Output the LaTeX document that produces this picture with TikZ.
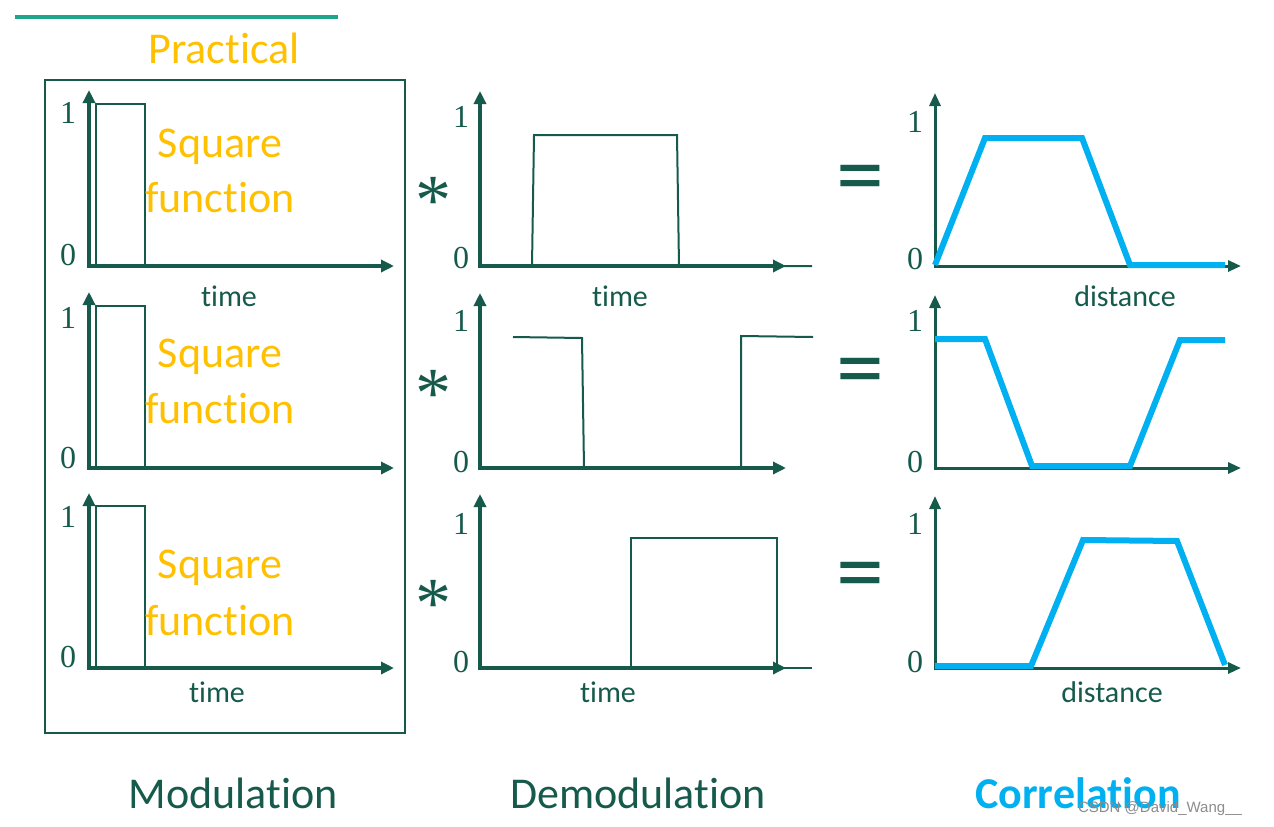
\documentclass[tikz,border=0pt]{standalone}
\usepackage{fontspec}
\setmainfont{Carlito}[Ligatures=NoCommon]
\newfontfamily\numfont{Liberation Serif}
\newfontfamily\wmfont{Liberation Sans}
\usetikzlibrary{arrows.meta}
\definecolor{dg}{RGB}{22,90,76}
\definecolor{yel}{RGB}{255,192,0}
\definecolor{blu}{RGB}{0,176,240}
\definecolor{topteal}{RGB}{30,166,138}
\begin{document}
\begin{tikzpicture}[x=1pt,y=-1pt,
  axis/.style={line width=4pt, draw=dg, -{Triangle[length=13pt,width=12pt]}},
  raxis/.style={line width=3pt, draw=dg, -{Triangle[length=13pt,width=11pt]}},
  sig/.style={line width=2pt, draw=dg},
  corr/.style={line width=6pt, draw=blu},
  num/.style={font=\numfont\fontsize{32}{32}\selectfont, text=dg, inner sep=0pt},
  sq/.style={font=\fontsize{44}{44}\selectfont, text=yel, inner sep=0pt},
  axlab/.style={font=\fontsize{30}{30}\selectfont, text=dg, inner sep=0pt},
  oplab/.style={font=\numfont\fontsize{72}{72}\selectfont, text=dg, inner sep=0pt},
  eqlab/.style={font=\fontsize{96}{96}\selectfont, text=dg, inner sep=0pt},
  title/.style={font=\fontsize{44}{44}\selectfont, inner sep=0pt}]
\useasboundingbox (0,0) rectangle (1274,827);

% top decoration and heading
\coordinate (tl) at (15,17);
\coordinate (tr) at (338,17);
\draw[line width=4pt, topteal] (tl) -- (tr);
\node[font=\fontsize{44}{44}\selectfont, text=yel, inner sep=0pt] (practical) at (224,48) {Practical};

% modulation frame
\draw[dg, line width=2pt] (45,80) rectangle (405,733);

% ---------- left column ----------
\foreach \r/\yo/\yt/\ytop/\yone/\yzero/\ysq/\yfn in
  {1/266/90/104/113/255/147/198, 2/468/292/306/318/458/357/409, 3/668/493/506/517/657/568/621}{
  \coordinate (L\r o) at (89,\yo);
  \coordinate (L\r y) at (89,\yt);
  \coordinate (L\r x) at (394,\yo);
  \draw[sig] (96,\yo) rectangle (145,\ytop);
  \draw[axis] ([yshift=-2pt]L\r o) -- (L\r y);
  \draw[axis] ([xshift=-2pt]L\r o) -- (L\r x);
  \node[num] (L\r one) at (68,\yone) {1};
  \node[num] (L\r zero) at (68,\yzero) {0};
  \node[sq] (L\r sq) at (220,\ysq) {Square};
  \node[sq] (L\r fn) at (220,\yfn) {function};
}
\node[axlab] (L1t) at (229,296) {time};
\node[axlab] (L3t) at (217,692) {time};

% ---------- middle column ----------
\foreach \r/\yo/\yt/\yone/\yzero/\yst in
  {1/266/91/117/258/190, 2/468/293/321/462/383, 3/668/494/524/662/593}{
  \coordinate (M\r o) at (480,\yo);
  \coordinate (M\r y) at (480,\yt);
  \coordinate (M\r x) at (786,\yo);
  \draw[axis] ([yshift=-2pt]M\r o) -- (M\r y);
  \draw[axis] ([xshift=-2pt]M\r o) -- (M\r x);
  \node[num] (M\r one) at (461,\yone) {1};
  \node[num] (M\r zero) at (461,\yzero) {0};
  \node[oplab] (M\r star) at (433,\yst+11) {*};
}
\draw[sig] (513,266) -- (532,266) -- (534,135) -- (677,135) -- (679,266) -- (812,266);
\draw[sig] (513,337) -- (582,338) -- (584,468);
\draw[sig] (741,468) -- (741,336) -- (813,337);
\draw[sig] (513,668) -- (631,668) -- (631,538) -- (777,538) -- (777,668) -- (812,668);
\node[axlab] (M1t) at (620,296) {time};
\node[axlab] (M3t) at (608,692) {time};

% ---------- right column ----------
\foreach \r/\yo/\yt/\yone/\yzero/\yeq in
  {1/266/93/122/259/186, 2/468/295/321/462/379, 3/668/496/524/662/583}{
  \coordinate (R\r o) at (935,\yo);
  \coordinate (R\r y) at (935,\yt);
  \coordinate (R\r x) at (1241,\yo);
  \draw[raxis] ([yshift=-1.5pt]R\r o) -- (R\r y);
  \draw[raxis] ([xshift=-1.5pt]R\r o) -- (R\r x);
  \node[num] (R\r one) at (915,\yone) {1};
  \node[num] (R\r zero) at (915,\yzero) {0};
  \node[eqlab] (R\r eq) at (860,\yeq) {=};
}
\draw[corr] (935,265) -- (985,138) -- (1082,138) -- (1130,265) -- (1225,265);
\draw[corr] (935,339) -- (985,339) -- (1032,466) -- (1130,466) -- (1180,340) -- (1225,340);
\draw[corr] (935,666) -- (1031,666) -- (1083,540) -- (1177,541) -- (1225,665);
\node[axlab] (R1t) at (1125,296) {distance};
\node[axlab] (R3t) at (1112,692) {distance};

% ---------- bottom titles ----------
\node[title, text=dg] (mod) at (233,793) {Modulation};
\node[title, text=dg] (demod) at (638,793) {Demodulation};
\node[title, text=blu, font=\bfseries\fontsize{44}{44}\selectfont] (corrl) at (1078,793) {Correlation};
\node[font=\wmfont\fontsize{15}{15}\selectfont, text=black!45, inner sep=0pt] (wm) at (1160,809) {CSDN @David\_Wang\_\_};
\end{tikzpicture}
\end{document}
